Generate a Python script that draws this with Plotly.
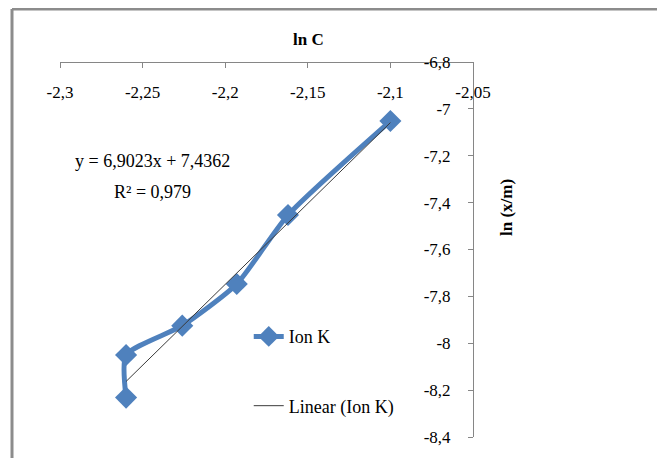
import plotly.graph_objects as go

# ---- data ----
ln_c = [-2.260, -2.260, -2.226, -2.193, -2.162, -2.100]
ln_xm = [-8.232, -8.050, -7.925, -7.747, -7.453, -7.052]

slope = 6.9023
intercept = 7.4362
r_squared = "0,979"

x_tickvals = [-2.3, -2.25, -2.2, -2.15, -2.1, -2.05]
x_ticktext = ["-2,3", "-2,25", "-2,2", "-2,15", "-2,1", "-2,05"]
y_tickvals = [-6.8, -7.0, -7.2, -7.4, -7.6, -7.8, -8.0, -8.2, -8.4]
y_ticktext = ["-6,8", "-7", "-7,2", "-7,4", "-7,6", "-7,8", "-8", "-8,2", "-8,4"]

series_name = "Ion K"
trend_name = "Linear (Ion K)"

# trendline endpoints from the displayed fit equation
trend_x = [min(ln_c), max(ln_c)]
trend_y = [slope * v + intercept for v in trend_x]

FONT = "Liberation Serif"
BLUE = "#4F81BD"
AXIS = "#868686"

fig = go.Figure()
fig.add_trace(go.Scatter(
    x=ln_c, y=ln_xm, mode="lines+markers", name=series_name,
    line=dict(color=BLUE, width=5, shape="spline", smoothing=0.6),
    marker=dict(symbol="diamond", size=17, color=BLUE),
    legend="legend",
))
fig.add_trace(go.Scatter(
    x=trend_x, y=trend_y, mode="lines", name=trend_name,
    line=dict(color="#3a3a3a", width=1),
    legend="legend2",
))

fig.update_layout(
    width=657, height=450,
    margin=dict(l=52, r=192, t=54, b=21),
    paper_bgcolor="white", plot_bgcolor="white",
    font=dict(family=FONT, size=16, color="#000000"),
    showlegend=True,
    legend=dict(x=0.457, y=0.2675, xanchor="left", yanchor="middle",
                bgcolor="rgba(0,0,0,0)", font=dict(family=FONT, size=18, color="#000")),
    legend2=dict(x=0.457, y=0.0827, xanchor="left", yanchor="middle",
                 bgcolor="rgba(0,0,0,0)", font=dict(family=FONT, size=18, color="#000")),
    xaxis=dict(
        range=[-2.3, -2.05], anchor="free", position=1, side="bottom",
        tickvals=x_tickvals, ticktext=x_ticktext,
        showgrid=False, zeroline=False, showline=True, linecolor=AXIS, linewidth=1,
        ticks="outside", ticklen=5, tickcolor=AXIS, ticklabelstandoff=10,
        tickfont=dict(family=FONT, size=17, color="#000"),
    ),
    yaxis=dict(
        range=[-8.4, -6.8], anchor="free", position=1, side="left",
        tickvals=y_tickvals, ticktext=y_ticktext,
        showgrid=False, zeroline=False, showline=True, linecolor=AXIS, linewidth=1,
        ticks="outside", ticklen=5, tickcolor=AXIS, ticklabelstandoff=14,
        tickfont=dict(family=FONT, size=17, color="#000"),
    ),
    annotations=[
        dict(text="<b>ln C</b>", xref="paper", yref="paper", x=0.6005, y=1.0587,
             xanchor="center", yanchor="middle",
             showarrow=False, font=dict(family=FONT, size=17, color="#000")),
        dict(text="<b>ln (x/m)</b>", xref="paper", yref="paper", x=1.0799, y=0.6133,
             xanchor="center", yanchor="middle",
             textangle=-90, showarrow=False, font=dict(family=FONT, size=17, color="#000")),
        dict(text=f"y = {str(slope).replace('.', ',')}x + {str(intercept).replace('.', ',')}",
             xref="paper", yref="paper", x=0.2228, y=0.7368,
             xanchor="center", yanchor="middle",
             showarrow=False, font=dict(family=FONT, size=18, color="#000")),
        dict(text=f"R² = {r_squared}", xref="paper", yref="paper", x=0.2228, y=0.6541,
             xanchor="center", yanchor="middle",
             showarrow=False, font=dict(family=FONT, size=18, color="#000")),
    ],
    shapes=[
        dict(type="line", xref="paper", yref="paper", x0=-0.1162, x1=1.47, y0=1.1413, y1=1.1413,
             line=dict(color="#8c8c8c", width=3)),
        dict(type="line", xref="paper", yref="paper", x0=-0.1162, x1=-0.1162, y0=1.1413, y1=-0.06,
             line=dict(color="#8c8c8c", width=3)),
    ],
)

fig.write_html("out.html")
